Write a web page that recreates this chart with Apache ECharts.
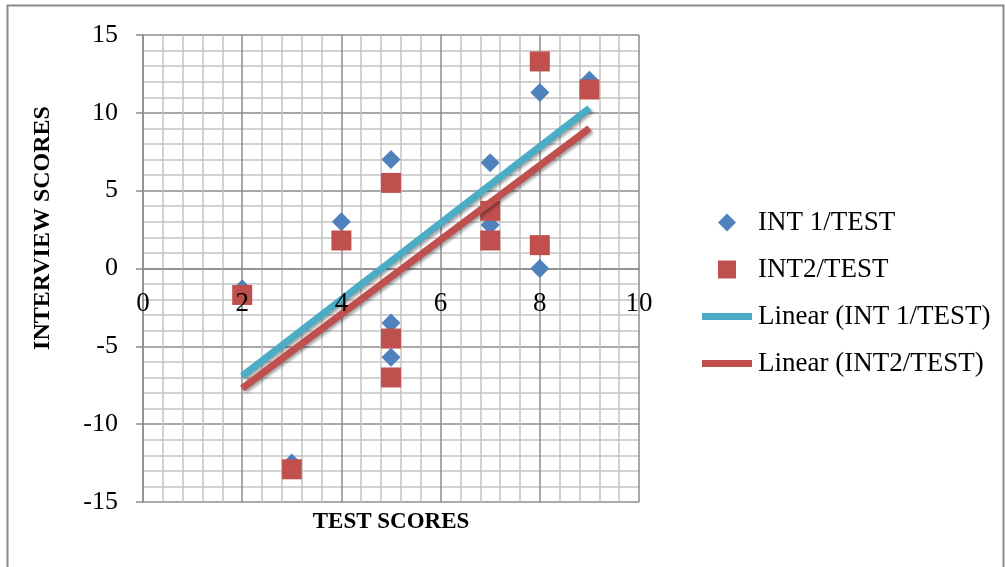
<!DOCTYPE html>
<html>
<head>
<meta charset="utf-8">
<script src="https://cdn.jsdelivr.net/npm/echarts@6/dist/echarts.min.js"></script>
<style>html,body{margin:0;padding:0;background:#fff}#c{width:1005px;height:567px}</style>
</head>
<body>
<div id="c"></div>
<script>
// Data
const testScores = [2, 3, 4, 5, 5, 5, 7, 7, 8, 8, 9];
const int1Scores = [-1.3, -12.5, 3, 7, -3.5, -5.7, 6.8, 2.8, 11.3, 0, 12.1];
const int2Scores = [-1.7, -12.9, 1.8, 5.5, -4.5, -7.0, 3.7, 1.8, 13.3, 1.5, 11.5];
// Trendline end points (x, y)
const trendX = [2, 9];
const trend1Y = [-6.9, 10.3];
const trend2Y = [-7.7, 9.0];
const seriesNames = ['INT 1/TEST', 'INT2/TEST', 'Linear (INT 1/TEST)', 'Linear (INT2/TEST)'];
const xTitle = 'TEST SCORES';
const yTitle = 'INTERVIEW SCORES';

const pair = (xs, ys) => xs.map((x, i) => [x, ys[i]]);
const FONT = 'Liberation Serif';
const chart = echarts.init(document.getElementById('c'), null, {renderer: 'canvas'});
const shadow = {shadowColor: 'rgba(0,0,0,0.35)', shadowBlur: 3, shadowOffsetX: 2, shadowOffsetY: 2};
const gridTop = 35, gridBottom = 65, plotH = 567 - gridTop - gridBottom;
const GRID_MAJOR = '#8c8c8c', GRID_MINOR = '#c4c4c4';
chart.setOption({
  animation: false,
  backgroundColor: '#fff',
  grid: {left: 143, right: 366, top: gridTop, bottom: gridBottom, containLabel: false},
  xAxis: [
    {
      type: 'value', min: 0, max: 10, interval: 2,
      offset: -plotH / 2,
      axisLine: {onZero: false, lineStyle: {color: GRID_MAJOR, width: 1.5}},
      axisTick: {show: false},
      axisLabel: {show: false},
      splitLine: {show: true, lineStyle: {color: GRID_MAJOR, width: 1.5}},
      minorTick: {show: false, splitNumber: 5},
      minorSplitLine: {show: true, lineStyle: {color: GRID_MINOR, width: 1.5}}
    },
    {
      type: 'value', min: 0, max: 10, interval: 2, position: 'bottom',
      offset: -plotH / 2, z: 20,
      axisLine: {show: false, onZero: false},
      axisTick: {show: false},
      axisLabel: {fontFamily: FONT, fontSize: 27, color: '#000', margin: 22},
      splitLine: {show: false}
    }
  ],
  yAxis: {
    type: 'value', min: -15, max: 15, interval: 5,
    axisLine: {show: true, lineStyle: {color: GRID_MAJOR, width: 1.5}},
    axisTick: {show: true, inside: false, length: 7, lineStyle: {color: GRID_MAJOR, width: 1.5}},
    axisLabel: {fontFamily: FONT, fontSize: 26, color: '#000', margin: 25},
    splitLine: {show: true, lineStyle: {color: GRID_MAJOR, width: 1.5}},
    minorTick: {show: false, splitNumber: 5},
    minorSplitLine: {show: true, lineStyle: {color: GRID_MINOR, width: 1.5}}
  },
  legend: [
    {
      orient: 'vertical', left: 713, top: 204, itemWidth: 18, itemHeight: 18, itemGap: 20,
      textStyle: {fontFamily: FONT, fontSize: 27, color: '#000', padding: [0, 0, 0, 17]},
      data: [{name: seriesNames[0], icon: 'diamond'}, {name: seriesNames[1], icon: 'rect'}]
    },
    {
      orient: 'vertical', left: 697, top: 298, itemWidth: 50, itemHeight: 7, itemGap: 20,
      textStyle: {fontFamily: FONT, fontSize: 27, color: '#000', padding: [0, 0, 0, 1]},
      data: [{name: seriesNames[2], icon: 'rect'}, {name: seriesNames[3], icon: 'rect'}]
    }
  ],
  graphic: [
    {type: 'rect', silent: true, shape: {x: 7.5, y: 5.5, width: 996, height: 600},
     style: {fill: 'none', stroke: '#8a8a8a', lineWidth: 2}},
    {type: 'text', silent: true, x: 391, y: 522,
     style: {text: xTitle, fontFamily: FONT, fontSize: 23, fontWeight: 'bold', fill: '#000',
             textAlign: 'center', textVerticalAlign: 'middle'}},
    {type: 'text', silent: true, x: 43, y: 228, rotation: Math.PI / 2,
     style: {text: yTitle, fontFamily: FONT, fontSize: 24, fontWeight: 'bold', fill: '#000',
             textAlign: 'center', textVerticalAlign: 'middle'}}
  ],
  series: [
    {name: seriesNames[0], type: 'scatter', symbol: 'diamond', symbolSize: 19,
     itemStyle: {color: '#4F81BD', opacity: 1}, data: pair(testScores, int1Scores), z: 2},
    {name: seriesNames[1], type: 'scatter', symbol: 'rect', symbolSize: 20,
     itemStyle: {color: '#C0504D', opacity: 1}, data: pair(testScores, int2Scores), z: 3},
    {name: seriesNames[2], type: 'line', symbol: 'none', showSymbol: false, data: pair(trendX, trend1Y), z: 4,
     itemStyle: {color: '#4BACC6'}, lineStyle: Object.assign({color: '#4BACC6', width: 7}, shadow)},
    {name: seriesNames[3], type: 'line', symbol: 'none', showSymbol: false, data: pair(trendX, trend2Y), z: 5,
     itemStyle: {color: '#C0504D'}, lineStyle: Object.assign({color: '#C0504D', width: 7}, shadow)}
  ]
});
</script>
</body>
</html>
